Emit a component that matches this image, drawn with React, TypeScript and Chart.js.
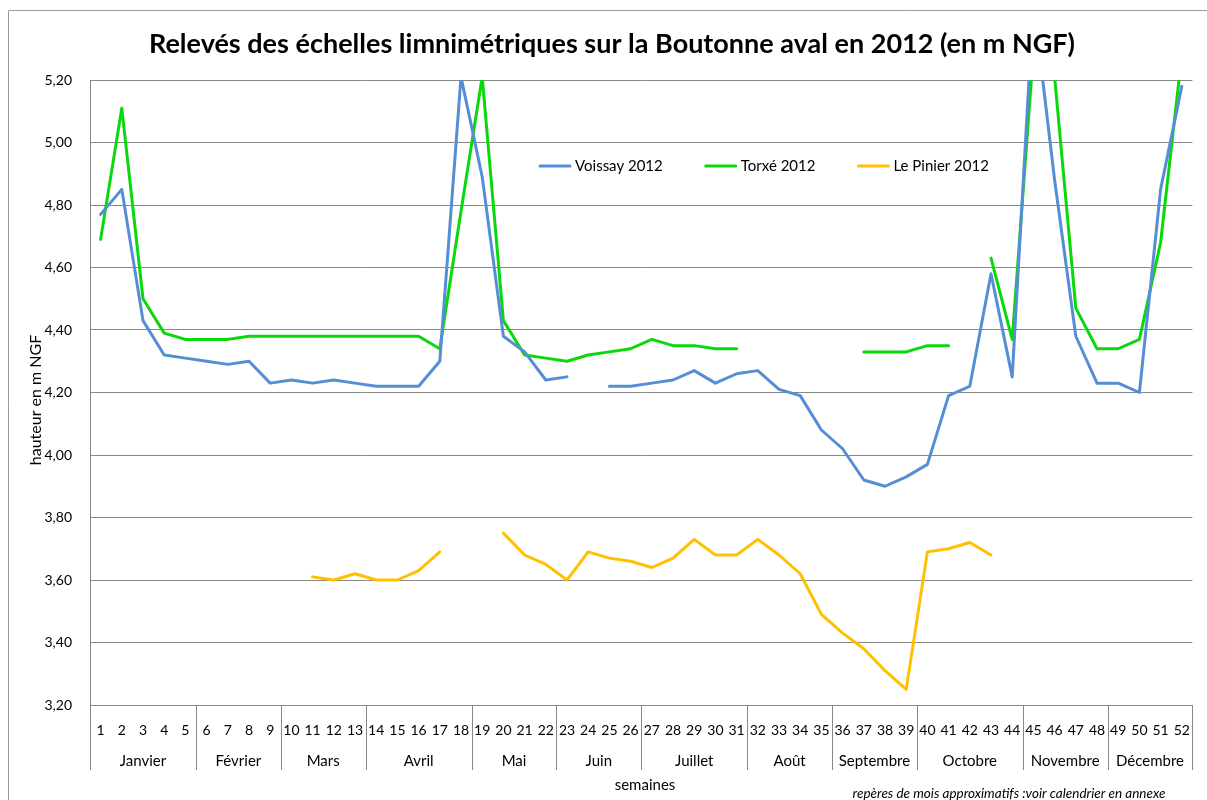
import React, { useEffect, useRef } from 'react';
import { Chart, registerables } from 'chart.js';

Chart.register(...registerables);

const weeks = ['1','2','3','4','5','6','7','8','9','10','11','12','13','14','15','16','17','18','19','20','21','22','23','24','25','26','27','28','29','30','31','32','33','34','35','36','37','38','39','40','41','42','43','44','45','46','47','48','49','50','51','52'];

const voissay = [4.77, 4.85, 4.43, 4.32, 4.31, 4.30, 4.29, 4.30, 4.23, 4.24,
  4.23, 4.24, 4.23, 4.22, 4.22, 4.22, 4.30, 5.21, 4.89, 4.38,
  4.33, 4.24, 4.25, null, 4.22, 4.22, 4.23, 4.24, 4.27, 4.23,
  4.26, 4.27, 4.21, 4.19, 4.08, 4.02, 3.92, 3.90, 3.93, 3.97,
  4.19, 4.22, 4.58, 4.25, 5.45, 4.88, 4.38, 4.23, 4.23, 4.20,
  4.85, 5.18];

const torxe = [4.69, 5.11, 4.50, 4.39, 4.37, 4.37, 4.37, 4.38, 4.38, 4.38,
  4.38, 4.38, 4.38, 4.38, 4.38, 4.38, 4.34, 4.78, 5.21, 4.43,
  4.32, 4.31, 4.30, 4.32, 4.33, 4.34, 4.37, 4.35, 4.35, 4.34,
  4.34, null, null, null, null, null, 4.33, 4.33, 4.33, 4.35,
  4.35, null, 4.63, 4.37, 5.29, 5.21, 4.47, 4.34, 4.34, 4.37,
  4.68, 5.28];

const pinier = [null, null, null, null, null, null, null, null, null, null,
  3.61, 3.60, 3.62, 3.60, 3.60, 3.63, 3.69, null, null, 3.75,
  3.68, 3.65, 3.60, 3.69, 3.67, 3.66, 3.64, 3.67, 3.73, 3.68,
  3.68, 3.73, 3.68, 3.62, 3.49, 3.43, 3.38, 3.31, 3.25, 3.69,
  3.70, 3.72, 3.68, null, null, null, null, null, null, null,
  null, null];

const seriesNames = ['Voissay 2012', 'Torxé 2012', 'Le Pinier 2012'];
const seriesColors = ['#558ED5', '#0AD80A', '#FFC000'];

const monthNames = ['Janvier', 'Février', 'Mars', 'Avril', 'Mai', 'Juin', 'Juillet', 'Août', 'Septembre', 'Octobre', 'Novembre', 'Décembre'];
const monthWeekCounts = [5, 4, 4, 5, 4, 4, 5, 4, 4, 5, 4, 4];

const titleText = 'Relevés des échelles limnimétriques sur la Boutonne aval en 2012 (en m NGF)';
const yTitle = 'hauteur en m NGF';
const xTitle = 'semaines';
const noteText = 'repères de mois approximatifs :voir calendrier en annexe';

const FONT = "Lato, 'Open Sans', sans-serif";
const GRID = '#888888';

const decorPlugin = {
  id: 'decor',
  afterDraw(chart: any) {
    const ctx = chart.ctx;
    const area = chart.chartArea;
    const xs = chart.scales.x;
    ctx.save();
    // chart area border
    ctx.strokeStyle = '#9a9a9a';
    ctx.lineWidth = 1;
    ctx.beginPath();
    ctx.moveTo(8.5, 800);
    ctx.lineTo(8.5, 10.5);
    ctx.lineTo(1207, 10.5);
    ctx.stroke();

    // title
    ctx.fillStyle = '#000';
    ctx.font = `bold 27px ${FONT}`;
    ctx.textAlign = 'center';
    ctx.textBaseline = 'middle';
    ctx.fillText(titleText, 612, 44);

    // y title
    ctx.save();
    ctx.translate(36, 400);
    ctx.rotate(-Math.PI / 2);
    ctx.font = `16px ${FONT}`;
    ctx.fillText(yTitle, 0, 0);
    ctx.restore();

    // legend
    ctx.font = `15px ${FONT}`;
    ctx.textAlign = 'left';
    let lx = 540;
    const ly = 166;
    chart.data.datasets.forEach((ds: any) => {
      ctx.strokeStyle = ds.borderColor;
      ctx.lineWidth = 3;
      ctx.lineCap = 'round';
      ctx.beginPath();
      ctx.moveTo(lx, ly);
      ctx.lineTo(lx + 30, ly);
      ctx.stroke();
      ctx.fillStyle = '#000';
      ctx.fillText(ds.label, lx + 35, ly);
      lx += 35 + ctx.measureText(ds.label).width + 43;
    });

    // month dividers and names
    ctx.strokeStyle = GRID;
    ctx.lineWidth = 1;
    ctx.lineCap = 'butt';
    let start = 0;
    const bounds: number[] = [xs.getPixelForValue(-0.5)];
    monthWeekCounts.forEach((n) => {
      start += n;
      bounds.push(xs.getPixelForValue(start - 0.5));
    });
    bounds.forEach((bx) => {
      const px = Math.round(bx) + 0.5;
      ctx.beginPath();
      ctx.moveTo(px, area.bottom);
      ctx.lineTo(px, 770);
      ctx.stroke();
    });
    ctx.fillStyle = '#000';
    ctx.font = `15px ${FONT}`;
    ctx.textAlign = 'center';
    monthNames.forEach((m, i) => {
      ctx.fillText(m, (bounds[i] + bounds[i + 1]) / 2, 761);
    });

    // x title
    ctx.fillText(xTitle, 645, 785);

    // note
    ctx.font = `italic 13.5px ${FONT}`;
    ctx.fillText(noteText, 1009, 794);
    ctx.restore();
  },
};

export default function App() {
  const ref = useRef<HTMLCanvasElement>(null);
  useEffect(() => {
    const canvas = ref.current!;
    const chart = new Chart(canvas, {
      type: 'line',
      data: {
        labels: weeks,
        datasets: [
          { label: seriesNames[0], data: voissay, borderColor: seriesColors[0], backgroundColor: seriesColors[0] },
          { label: seriesNames[1], data: torxe, borderColor: seriesColors[1], backgroundColor: seriesColors[1] },
          { label: seriesNames[2], data: pinier, borderColor: seriesColors[2], backgroundColor: seriesColors[2] },
        ].map((d) => ({ ...d, borderWidth: 3, pointRadius: 0, tension: 0, spanGaps: false, borderJoinStyle: 'round' as const, borderCapStyle: 'round' as const })),
      },
      options: {
        responsive: false,
        animation: false,
        devicePixelRatio: 1,
        layout: { padding: { left: 0, top: 80, right: 7, bottom: 0 } },
        plugins: {
          legend: { display: false },
          title: { display: false },
          tooltip: { enabled: false },
        },
        scales: {
          x: {
            type: 'category',
            offset: true,
            grid: { display: false, drawTicks: false },
            border: { display: false },
            ticks: {
              autoSkip: false,
              maxRotation: 0,
              minRotation: 0,
              padding: 17,
              color: '#000',
              font: { family: FONT, size: 14 },
            },
            afterFit: (s: any) => { s.height = 95; },
          },
          y: {
            min: 3.2,
            max: 5.2,
            grid: { color: GRID, lineWidth: 1, drawTicks: false },
            border: { display: true, color: GRID },
            ticks: {
              stepSize: 0.2,
              padding: 18,
              color: '#000',
              font: { family: FONT, size: 14 },
              callback: (v: any) => Number(v).toFixed(2).replace('.', ','),
            },
            afterFit: (s: any) => { s.width = 90; },
          },
        },
      },
      plugins: [decorPlugin],
    });
    return () => chart.destroy();
  }, []);
  return (
    <div style={{ position: 'absolute', left: 0, top: 0, width: 1207, height: 800, background: '#fff' }}>
      <canvas ref={ref} width={1207} height={800} style={{ display: 'block' }} />
    </div>
  );
}
